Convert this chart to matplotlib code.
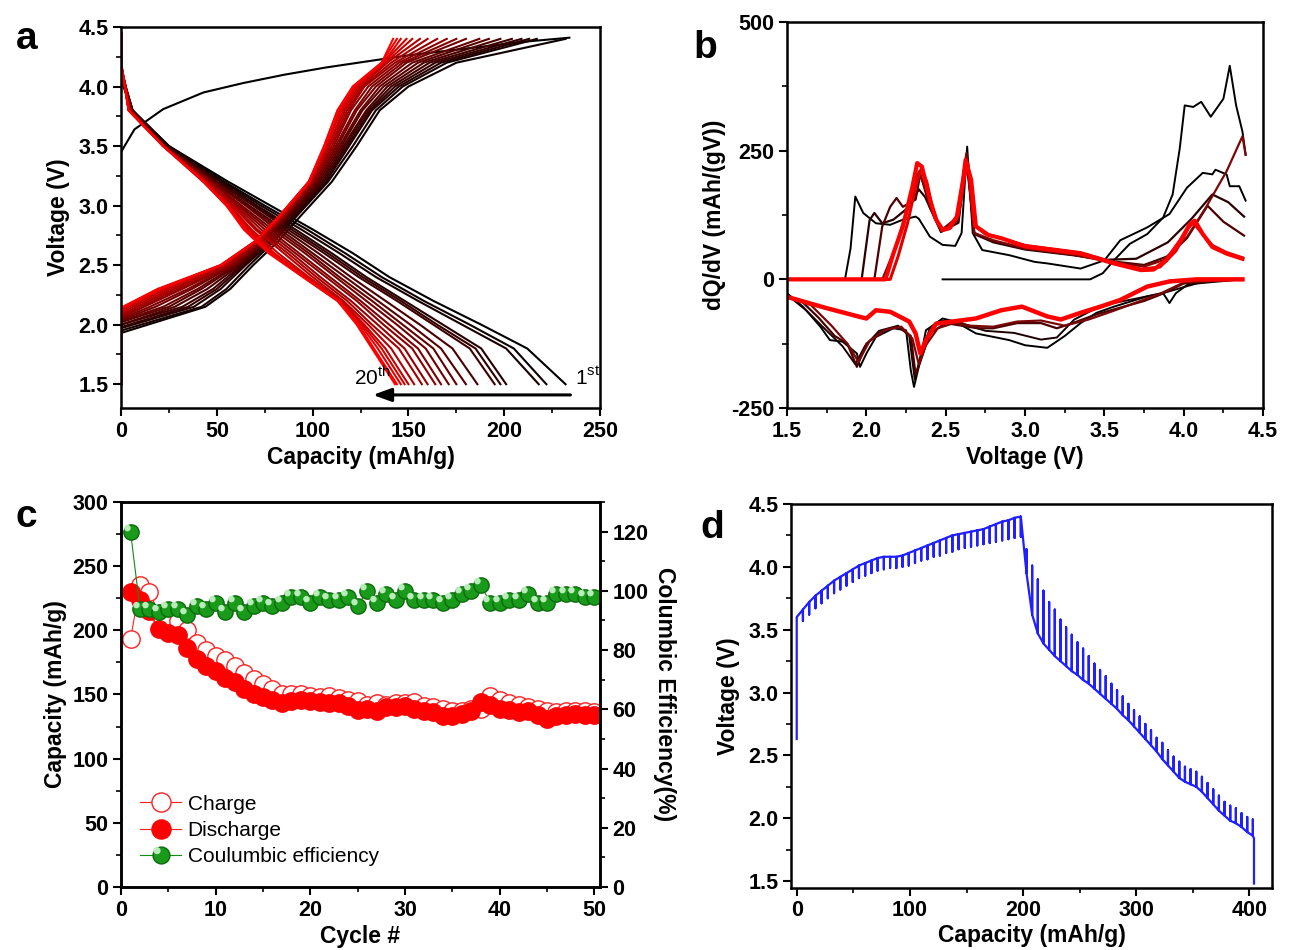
import numpy as np
import matplotlib
matplotlib.use('Agg')
import matplotlib.pyplot as plt
from matplotlib.ticker import MultipleLocator, FormatStrFormatter
from matplotlib.colors import LinearSegmentedColormap
from matplotlib.path import Path

plt.rcParams['font.family'] = ['Liberation Sans', 'DejaVu Sans']
plt.rcParams['font.weight'] = 'bold'
plt.rcParams['axes.labelweight'] = 'bold'
plt.rcParams['axes.unicode_minus'] = False

# ---------------- panel a: charge / discharge profiles, 20 cycles ----------------
first_chg_cap = [0, 0, 7, 22, 43, 64, 85.5, 107, 128, 149, 170, 191.6, 213, 234]
first_chg_v = [2.48, 3.45, 3.64, 3.81, 3.95, 4.03, 4.10, 4.16, 4.21, 4.26, 4.30, 4.34, 4.38, 4.41]

# capacity (mAh/g) at which each charge curve (cycles 2-20) reaches these voltages
chg_levels = [2.15, 2.3, 2.5, 2.7, 2.9, 3.2, 3.5, 3.8, 4.0, 4.2, 4.4]
chg_start = [1.93, 1.95, 1.97, 1.98, 2.00, 2.00, 2.02, 2.03, 2.04, 2.05,
             2.06, 2.07, 2.08, 2.09, 2.10, 2.10, 2.11, 2.12, 2.12]
chg_caps = [
    [44, 57, 69, 82, 93, 110, 123, 135, 150, 175, 232],
    [42, 55, 67, 80, 91, 108, 121, 133, 147, 170, 217],
    [38, 52, 65, 79, 90, 107, 119, 131, 145, 167, 213],
    [35, 50, 64, 78, 89, 106, 118, 130, 143, 164, 209],
    [32, 48, 63, 77, 88, 105, 117, 129, 141, 161, 204],
    [28, 45, 62, 76, 87, 104, 116, 128, 139, 158, 198],
    [25, 42, 61, 75, 86, 103, 115, 126, 137, 155, 192],
    [22, 40, 60, 74, 86, 102, 114, 125, 135, 152, 187],
    [18, 37, 59, 74, 85, 101, 113, 123, 133, 149, 180],
    [15, 35, 58, 73, 85, 101, 112, 122, 131, 147, 175],
    [12, 32, 57, 73, 84, 100, 111, 120, 129, 145, 170],
    [10, 30, 56, 72, 84, 100, 110, 119, 127, 143, 165],
    [8, 28, 55, 72, 83, 99, 109, 118, 126, 141, 160],
    [6, 26, 54, 71, 83, 99, 108, 117, 125, 139, 156],
    [4, 24, 53, 71, 83, 99, 108, 116, 124, 138, 152],
    [3, 22, 53, 70, 82, 98, 107, 115, 123, 137, 149],
    [2, 21, 52, 70, 82, 98, 107, 114, 122, 137, 146],
    [1, 20, 52, 70, 82, 98, 106, 113, 121, 136, 144],
    [1, 19, 52, 70, 82, 98, 106, 113, 121, 136, 142],
]

# capacity at which each discharge curve (cycles 1-20) reaches these voltages
dis_levels = [3.8, 3.5, 3.2, 3.0, 2.8, 2.6, 2.4, 2.2, 2.0, 1.8, 1.5]
dis_start = [4.05, 4.10, 4.12, 4.13, 4.14, 4.15, 4.15, 4.16, 4.16, 4.17,
             4.17, 4.18, 4.18, 4.18, 4.19, 4.19, 4.20, 4.20, 4.20, 4.20]
dis_caps = [
    [6, 25, 56, 78, 100, 121, 140, 163, 188, 212, 232],
    [6, 25, 54, 75, 97, 117, 136, 158, 182, 205, 222],
    [6, 24, 53, 73, 94, 114, 133, 155, 178, 201, 218],
    [6, 24, 52, 71, 91, 110, 128, 148, 168, 188, 201],
    [6, 23, 51, 70, 89, 108, 126, 146, 165, 185, 198],
    [5, 23, 50, 69, 87, 106, 124, 144, 163, 182, 195],
    [5, 23, 49, 67, 85, 103, 120, 138, 156, 173, 186],
    [5, 23, 48, 66, 83, 100, 117, 134, 151, 167, 180],
    [5, 23, 48, 65, 81, 98, 114, 131, 147, 163, 175],
    [5, 22, 47, 63, 79, 96, 112, 128, 144, 159, 171],
    [5, 22, 47, 62, 77, 93, 109, 125, 140, 155, 167],
    [5, 22, 46, 61, 75, 91, 107, 123, 137, 152, 164],
    [5, 22, 46, 60, 73, 89, 104, 120, 134, 148, 160],
    [5, 22, 45, 59, 71, 87, 102, 118, 131, 145, 157],
    [4, 22, 45, 58, 70, 85, 100, 116, 129, 141, 153],
    [4, 22, 44, 57, 68, 82, 98, 115, 127, 138, 150],
    [4, 22, 44, 56, 67, 80, 97, 114, 126, 136, 148],
    [4, 22, 43, 56, 66, 79, 96, 114, 125, 134, 146],
    [4, 22, 43, 55, 65, 78, 95, 113, 124, 132, 144],
    [4, 22, 43, 55, 64, 77, 95, 113, 123, 131, 143],
]

# ---------------- panel b: dQ/dV ----------------
b_chg1_v = [2.48, 3.41, 3.49, 3.56, 3.66, 3.77, 3.87, 3.93, 3.975, 4.006, 4.06, 4.11, 4.17, 4.20, 4.25, 4.29, 4.33, 4.37, 4.39]
b_chg1_q = [0, 0, 12, 37, 69, 88, 120, 165, 255, 338, 335, 345, 316, 329, 351, 415, 338, 287, 242]
b_chg2_v = [1.50, 1.865, 1.90, 1.93, 1.98, 2.06, 2.15, 2.23, 2.31, 2.33, 2.40, 2.48, 2.56, 2.60, 2.635, 2.67, 2.73,
            2.90, 3.06, 3.14, 3.35, 3.50, 3.60, 3.77, 3.91, 4.02, 4.12, 4.18, 4.20, 4.27, 4.29, 4.35, 4.39]
b_chg2_q = [0, 0, 60, 161, 129, 109, 106, 116, 122, 118, 83, 67, 65, 90, 258, 90, 57,
            47, 34, 31, 21, 37, 76, 101, 127, 178, 207, 204, 213, 204, 181, 181, 153]
b_chg3_v = [1.50, 1.97, 2.02, 2.05, 2.10, 2.17, 2.27, 2.33, 2.37, 2.47, 2.58, 2.63, 2.68, 2.80, 3.00, 3.30,
            3.50, 3.70, 3.90, 4.05, 4.18, 4.28, 4.38]
b_chg3_q = [0, 0, 115, 129, 109, 116, 141, 175, 160, 92, 110, 235, 88, 72, 58, 47,
            38, 40, 72, 118, 165, 150, 122]
b_chg4_v = [1.50, 2.05, 2.10, 2.15, 2.19, 2.23, 2.31, 2.34, 2.40, 2.47, 2.58, 2.63, 2.68, 2.80, 3.00, 3.30,
            3.55, 3.75, 3.90, 4.02, 4.15, 4.25, 4.38]
b_chg4_q = [0, 0, 103, 141, 158, 141, 155, 205, 140, 95, 115, 240, 90, 74, 60, 48,
            35, 28, 45, 80, 143, 112, 85]
b_chg5_v = [1.50, 2.10, 2.18, 2.26, 2.33, 2.38, 2.47, 2.57, 2.63, 2.68, 2.80, 3.00, 3.30, 3.55, 3.75, 3.87,
            4.02, 4.14, 4.27, 4.37, 4.39]
b_chg5_q = [0, 0, 60, 140, 210, 170, 95, 120, 245, 90, 76, 60, 48, 33, 25, 37,
            82, 140, 210, 278, 242]
b_chg6_v = [1.50, 2.15, 2.20, 2.26, 2.31, 2.345, 2.38, 2.43, 2.48, 2.53, 2.58, 2.62, 2.64, 2.68, 2.75, 2.85,
            3.00, 3.35, 3.56, 3.73, 3.85, 3.95, 4.03, 4.06, 4.10, 4.18, 4.27, 4.37]
b_chg6_q = [0, 0, 45, 110, 180, 215, 190, 120, 98, 100, 125, 200, 225, 105, 88, 80,
            66, 52, 33, 20, 24, 55, 100, 110, 95, 66, 52, 42]
b_chg20_v = [1.50, 2.12, 2.17, 2.23, 2.29, 2.32, 2.35, 2.40, 2.44, 2.48, 2.52, 2.57, 2.61, 2.625, 2.66, 2.69,
             2.77, 2.85, 3.00, 3.35, 3.56, 3.73, 3.81, 3.89, 3.98, 4.04, 4.07, 4.12, 4.18, 4.27, 4.37]
b_chg20_q = [0, 0, 50, 103, 180, 226, 219, 155, 116, 96, 99, 122, 194, 232, 194, 103,
             86, 80, 64, 50, 31, 18, 19, 37, 76, 108, 114, 88, 63, 50, 40]

b_dis1_v = [1.50, 1.60, 1.71, 1.77, 1.85, 1.94, 1.96, 2.00, 2.06, 2.17, 2.25, 2.28, 2.30, 2.33, 2.375, 2.48,
            2.56, 2.69, 2.90, 3.00, 3.14, 3.25, 3.35, 3.45, 3.56, 3.77, 3.87, 3.91, 3.95, 4.02, 4.18, 4.37]
b_dis1_q = [-27, -53, -92, -118, -121, -144, -170, -144, -112, -95, -99, -177, -209, -170, -99, -76,
            -82, -105, -118, -128, -133, -110, -85, -65, -53, -33, -27, -46, -27, -11, -3, 0]
b_dis2_v = [1.50, 1.62, 1.75, 1.85, 1.93, 1.99, 2.08, 2.20, 2.27, 2.305, 2.34, 2.40, 2.48, 2.60, 2.75, 2.93,
            3.10, 3.20, 3.31, 3.43, 3.56, 3.77, 3.90, 4.08, 4.37]
b_dis2_q = [-30, -60, -100, -130, -165, -130, -100, -90, -110, -195, -150, -95, -80, -85, -100, -104,
            -117, -113, -78, -59, -46, -33, -24, -8, 0]
b_dis3_v = [1.50, 1.60, 1.70, 1.80, 1.88, 1.94, 2.00, 2.10, 2.20, 2.28, 2.31, 2.34, 2.40, 2.50, 2.60, 2.70,
            2.80, 2.95, 3.10, 3.20, 3.30, 3.45, 3.60, 3.75, 3.85, 4.00, 4.20, 4.37]
b_dis3_q = [-32, -45, -75, -110, -125, -170, -125, -100, -92, -110, -185, -160, -105, -85, -90, -95,
            -95, -85, -85, -95, -85, -68, -55, -42, -30, -8, -2, 0]
b_dis4_v = [1.50, 1.65, 1.78, 1.88, 1.95, 2.02, 2.12, 2.22, 2.29, 2.33, 2.37, 2.45, 2.55, 2.65, 2.80, 2.95,
            3.10, 3.25, 3.40, 3.55, 3.70, 3.85, 4.00, 4.37]
b_dis4_q = [-33, -50, -90, -125, -160, -120, -98, -92, -115, -165, -130, -95, -85, -90, -92, -82,
            -80, -90, -78, -62, -45, -28, -6, 0]
b_dis20_v = [1.50, 1.75, 1.96, 2.00, 2.06, 2.15, 2.27, 2.31, 2.34, 2.375, 2.44, 2.54, 2.69, 2.85, 2.98, 3.14,
             3.225, 3.35, 3.475, 3.60, 3.77, 3.91, 4.08, 4.37]
b_dis20_q = [-34, -56, -73, -76, -60, -63, -82, -105, -144, -118, -86, -82, -76, -60, -53, -72,
             -78, -65, -53, -40, -14, -4, 0, 0]

# ---------------- panel c: cycling ----------------
cycles = list(range(1, 51))
charge = [193, 235, 230, 213, 209, 207, 200, 190, 185, 180,
          177, 172, 167, 162, 158, 154, 150, 150, 150, 149,
          148, 149, 147, 146, 145, 142, 143, 142, 143, 143,
          144, 141, 140, 139, 137, 137, 139, 139, 149, 146,
          143, 142, 140, 139, 137, 136, 137, 137, 137, 136]
discharge = [230, 224, 215, 201, 198, 196, 186, 178, 172, 168,
             163, 160, 154, 150, 148, 146, 143, 145, 146, 145,
             144, 143, 143, 141, 138, 139, 137, 140, 140, 141,
             139, 137, 136, 133, 133, 135, 137, 144, 142, 139,
             138, 136, 137, 134, 131, 133, 134, 135, 134, 134]
efficiency = [120, 94, 94, 93, 94, 94, 92, 95, 94, 96,
              93, 96, 93, 95, 96, 95, 96, 98, 98, 96,
              98, 97, 97, 98, 95, 100, 96, 99, 97, 100,
              97, 97, 97, 96, 97, 99, 100, 102, 96, 96,
              97, 97, 99, 96, 96, 99, 99, 99, 98, 98]

# ---------------- panel d: GITT ----------------
gitt_start_v = 2.63
gitt_chg_cap = [0, 5.5, 11, 16.5, 22, 27.5, 33, 38.5, 44, 49.5, 55, 60.5, 66, 71.5, 77, 82.5, 88, 93.5, 99,
                104.5, 110, 115.5, 121, 126.5, 132, 137.5, 143, 148.5, 154, 159.5, 165, 170.5, 176, 181.5,
                187, 192.5, 198]
gitt_chg_ccv = [3.60, 3.66, 3.72, 3.77, 3.81, 3.85, 3.89, 3.92, 3.95, 3.98, 4.01, 4.03, 4.05, 4.07, 4.08, 4.08,
                4.08, 4.09, 4.11, 4.13, 4.15, 4.17, 4.19, 4.21, 4.23, 4.25, 4.26, 4.27, 4.28, 4.29, 4.30, 4.32,
                4.34, 4.36, 4.37, 4.39, 4.40]
gitt_chg_ocv = [3.60, 3.57, 3.62, 3.67, 3.71, 3.75, 3.79, 3.82, 3.85, 3.88, 3.91, 3.93, 3.95, 3.97, 3.98, 3.99,
                3.99, 4.00, 4.01, 4.03, 4.05, 4.06, 4.08, 4.09, 4.11, 4.12, 4.14, 4.15, 4.16, 4.17, 4.18, 4.19,
                4.20, 4.21, 4.22, 4.23, 4.24]
gitt_dis_cap = [203, 208, 213, 218, 223, 228, 233, 238, 243, 248, 253, 258, 263, 268, 273, 278, 283, 288, 293,
                298, 303, 308, 313, 318, 323, 328, 333, 338, 343, 348, 353, 358, 363, 368, 373, 378, 383, 388,
                393, 398, 403]
gitt_dis_ccv = [3.95, 3.62, 3.47, 3.39, 3.34, 3.29, 3.25, 3.21, 3.17, 3.14, 3.10, 3.07, 3.03, 2.99, 2.95, 2.91,
                2.87, 2.82, 2.78, 2.73, 2.68, 2.63, 2.58, 2.53, 2.47, 2.42, 2.37, 2.32, 2.29, 2.27, 2.25, 2.21,
                2.16, 2.11, 2.06, 2.02, 1.98, 1.96, 1.93, 1.89, 1.86]
gitt_dis_ocv = [4.14, 4.01, 3.90, 3.81, 3.72, 3.66, 3.58, 3.52, 3.46, 3.40, 3.35, 3.29, 3.23, 3.18, 3.13, 3.07,
                3.02, 2.97, 2.91, 2.86, 2.81, 2.75, 2.70, 2.64, 2.60, 2.54, 2.49, 2.45, 2.41, 2.39, 2.37, 2.33,
                2.28, 2.23, 2.18, 2.13, 2.10, 2.08, 2.04, 2.01, 1.99]
gitt_end_cap = 404
gitt_end_v = [1.84, 1.48]

TICK_FS = 15.5
LABEL_FS = 16.5


def style(ax, xmaj, xmin, ymaj, ymin):
    ax.xaxis.set_major_locator(MultipleLocator(xmaj))
    ax.xaxis.set_minor_locator(MultipleLocator(xmin))
    ax.yaxis.set_major_locator(MultipleLocator(ymaj))
    ax.yaxis.set_minor_locator(MultipleLocator(ymin))
    ax.tick_params(which='major', direction='out', length=6, width=1.5, labelsize=TICK_FS, pad=3)
    ax.tick_params(which='minor', direction='out', length=3.5, width=1.2)
    for s in ax.spines.values():
        s.set_linewidth(1.8)


fig = plt.figure(figsize=(12.89, 9.5), dpi=100)
ax_a = fig.add_axes([0.0939, 0.5705, 0.3716, 0.4011])
ax_b = fig.add_axes([0.6106, 0.5705, 0.3693, 0.4063])
ax_c = fig.add_axes([0.0939, 0.0663, 0.3716, 0.4053])
ax_d = fig.add_axes([0.6137, 0.0653, 0.3732, 0.4042])

# ---- a ----
cmap = LinearSegmentedColormap.from_list('cyc', ['#000000', '#500000', '#a00000', '#ff0000'])
ax_a.plot(first_chg_cap, first_chg_v, color='black', lw=1.5)
for i in range(20):
    col = cmap(i / 19)
    ax_a.plot([0, 0] + dis_caps[i], [4.45, dis_start[i]] + dis_levels, color=col, lw=1.5)
    if i > 0:
        ax_a.plot([0, 0] + chg_caps[i - 1], [1.5, chg_start[i - 1]] + chg_levels, color=col, lw=1.5)
ax_a.annotate('', xy=(130, 1.41), xytext=(236, 1.41),
              arrowprops=dict(arrowstyle='-|>,head_length=1.1,head_width=0.4', color='black', lw=2.2))
ax_a.text(141, 1.46, '20$^{\\mathregular{th}}$', fontsize=15, fontweight='normal', ha='right', va='bottom')
ax_a.text(237, 1.46, '1$^{\\mathregular{st}}$', fontsize=15, fontweight='normal', ha='left', va='bottom')
ax_a.set_xlim(0, 250)
ax_a.set_ylim(1.3, 4.5)
style(ax_a, 50, 25, 0.5, 0.25)
ax_a.yaxis.set_major_formatter(FormatStrFormatter('%.1f'))
ax_a.set_xlabel('Capacity (mAh/g)', fontsize=LABEL_FS, labelpad=3)
ax_a.set_ylabel('Voltage (V)', fontsize=LABEL_FS, labelpad=6)

# ---- b ----
b_upper = [(b_chg1_v, b_chg1_q, '#000000', 1.4), (b_chg2_v, b_chg2_q, '#000000', 1.4),
           (b_chg3_v, b_chg3_q, '#2a0000', 1.6), (b_chg4_v, b_chg4_q, '#4f0000', 1.6),
           (b_chg5_v, b_chg5_q, '#7a0808', 1.6), (b_chg6_v, b_chg6_q, '#e00000', 2.2),
           (b_chg20_v, b_chg20_q, '#ff0000', 3.0)]
b_lower = [(b_dis1_v, b_dis1_q, '#000000', 1.4), (b_dis2_v, b_dis2_q, '#1a0000', 1.4),
           (b_dis3_v, b_dis3_q, '#4a0000', 1.6), (b_dis4_v, b_dis4_q, '#7a0808', 1.6),
           (b_dis20_v, b_dis20_q, '#ff0000', 3.2)]
for v, q, col, lw in b_upper + b_lower:
    ax_b.plot(v, q, color=col, lw=lw)
ax_b.set_xlim(1.5, 4.5)
ax_b.set_ylim(-250, 500)
style(ax_b, 0.5, 0.25, 250, 125)
ax_b.xaxis.set_major_formatter(FormatStrFormatter('%.1f'))
ax_b.set_xlabel('Voltage (V)', fontsize=LABEL_FS, labelpad=3)
ax_b.set_ylabel('dQ/dV (mAh/(gV))', fontsize=LABEL_FS, labelpad=4)

# ---- c ----
ax_c2 = ax_c.twinx()
h_chg, = ax_c.plot(cycles, charge, color='#ff2020', lw=0.8, marker='o', ms=12.5, mfc='white',
                   mec='#ff2020', mew=1.0)
h_dis, = ax_c.plot(cycles, discharge, color='#ff2020', lw=0.8, marker='o', ms=12.5, mfc='#ff0000',
                   mec='#ff0000')
h_ce, = ax_c2.plot(cycles, efficiency, color='#138a13', lw=0.8, marker='o', ms=11, mfc='#1a9a1a',
                   mec='#0c6a0c', mew=1.0)
# small glossy highlight on the green spheres
shine = Path.circle(center=(-0.25, 0.27), radius=0.2)
h_shine, = ax_c2.plot(cycles, efficiency, ls='none', marker=shine, ms=11, mfc='#b8ecb8', mec='none')
ax_c.set_xlim(0, 50.6)
ax_c.set_ylim(0, 300)
ax_c2.set_ylim(0, 130)
style(ax_c, 10, 5, 50, 25)
ax_c2.yaxis.set_major_locator(MultipleLocator(20))
ax_c2.yaxis.set_minor_locator(MultipleLocator(10))
ax_c2.tick_params(which='major', direction='out', length=6, width=1.5, labelsize=TICK_FS, pad=3)
ax_c2.tick_params(which='minor', direction='out', length=3.5, width=1.2)
for s in ax_c2.spines.values():
    s.set_linewidth(1.8)
ax_c.set_xlabel('Cycle #', fontsize=LABEL_FS, labelpad=3)
ax_c.set_ylabel('Capacity (mAh/g)', fontsize=LABEL_FS, labelpad=4)
ax_c2.set_ylabel('Columbic Efficiency(%)', fontsize=LABEL_FS, rotation=270, labelpad=20)
ax_c.legend([h_chg, h_dis, (h_ce, h_shine)], ['Charge', 'Discharge', 'Coulumbic efficiency'],
            loc='lower left', bbox_to_anchor=(0.0, 0.005), frameon=False,
            prop={'size': 15, 'weight': 'normal'}, handlelength=2.0, handletextpad=0.3,
            labelspacing=0.35, numpoints=1, markerscale=1.1)

# ---- d ----
px = [0, 0]
py = [gitt_start_v, gitt_chg_ccv[0]]
for i in range(1, len(gitt_chg_cap)):
    px += [gitt_chg_cap[i]] * 3
    py += [gitt_chg_ccv[i], gitt_chg_ocv[i], gitt_chg_ccv[i]]
for i in range(len(gitt_dis_cap)):
    px += [gitt_dis_cap[i]] * 3
    py += [gitt_dis_ccv[i], gitt_dis_ocv[i], gitt_dis_ccv[i]]
px += [gitt_end_cap, gitt_end_cap]
py += gitt_end_v
ax_d.plot(px, py, color='#1f1fff', lw=1.6)
ax_d.set_xlim(-5, 420)
ax_d.set_ylim(1.445, 4.5)
style(ax_d, 100, 50, 0.5, 0.25)
ax_d.yaxis.set_major_formatter(FormatStrFormatter('%.1f'))
ax_d.set_xlabel('Capacity (mAh/g)', fontsize=LABEL_FS, labelpad=2)
ax_d.set_ylabel('Voltage (V)', fontsize=LABEL_FS, labelpad=6)

# panel letters
for x, y, s in [(0.012, 0.978, 'a'), (0.538, 0.968, 'b'), (0.012, 0.475, 'c'), (0.543, 0.463, 'd')]:
    fig.text(x, y, s, fontsize=28, fontweight='bold', va='top')

fig.savefig('out.png', dpi=100)
